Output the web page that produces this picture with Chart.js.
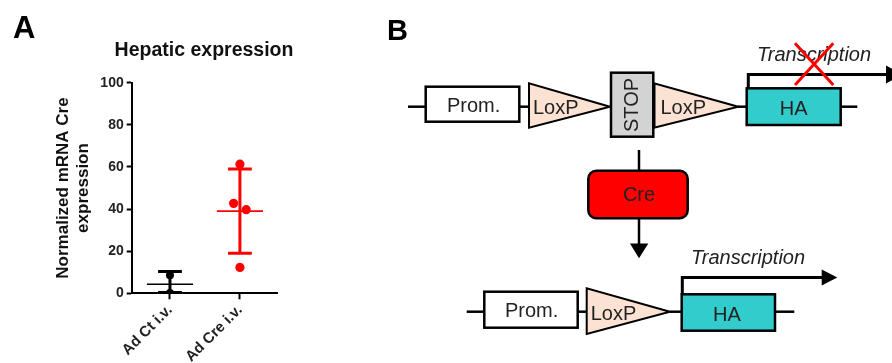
<!DOCTYPE html>
<html>
<head>
<meta charset="utf-8">
<script src="https://cdn.jsdelivr.net/npm/chart.js@4/dist/chart.umd.min.js"></script>
<style>
  html, body { margin:0; padding:0; background:#fff; }
  body { width:892px; height:363px; position:relative; overflow:hidden; font-family:"Liberation Sans", Arial, sans-serif; }
  #chartA { position:absolute; left:0; top:0; }
  .lbl { position:absolute; font-weight:bold; color:#000; line-height:1; white-space:nowrap; }
  svg { position:absolute; left:0; top:0; }
</style>
</head>
<body>
<canvas id="chartA" width="380" height="363"></canvas>
<div class="lbl" style="left:13px; top:12px; font-size:31px;">A</div>
<div class="lbl" style="left:0; width:408px; text-align:center; top:40px; font-size:19.5px; color:#111;">Hepatic expression</div>
<div class="lbl" style="left:387px; top:16px; font-size:29px;">B</div>

<svg width="892" height="363" viewBox="0 0 892 363" xmlns="http://www.w3.org/2000/svg" font-family="Liberation Sans, Arial, sans-serif">
  <g stroke="#000" stroke-width="2.5" fill="none">
    <line x1="408" y1="106.7" x2="426" y2="106.7"/>
    <line x1="519" y1="106.7" x2="529" y2="106.7"/>
    <line x1="738" y1="106.7" x2="747" y2="106.7"/>
    <line x1="840" y1="106.7" x2="857.3" y2="106.7"/>
    <line x1="466.7" y1="311.7" x2="484.3" y2="311.7"/>
    <line x1="577.7" y1="311.7" x2="586.7" y2="311.7"/>
    <line x1="670" y1="311.7" x2="681.7" y2="311.7"/>
    <line x1="775" y1="311.7" x2="794.3" y2="311.7"/>
  </g>
  <rect x="425.7" y="86.7" width="93.6" height="35" fill="#fff" stroke="#000" stroke-width="2.5"/>
  <polygon points="529,83.3 529,127.7 610,106.7" fill="#FBE2D3" stroke="#000" stroke-width="2"/>
  <rect x="611" y="72.7" width="42.3" height="64" fill="#D3D3D3" stroke="#000" stroke-width="2.5"/>
  <polygon points="654,83.3 654,127.7 738.3,106.7" fill="#FBE2D3" stroke="#000" stroke-width="2"/>
  <line x1="654" y1="83" x2="654" y2="128" stroke="#000" stroke-width="3"/>
  <rect x="746.7" y="88.3" width="94" height="36.7" fill="#33CCCC" stroke="#000" stroke-width="2.5"/>
  <text x="447" y="112" font-size="20" fill="#222">Prom.</text>
  <text x="533" y="113.5" font-size="20" fill="#222">LoxP</text>
  <text x="660.5" y="113.5" font-size="20" fill="#222">LoxP</text>
  <text x="793.7" y="114.5" font-size="20" fill="#222" text-anchor="middle">HA</text>
  <text transform="translate(638,105) rotate(-90)" x="0" y="0" font-size="20" fill="#222" text-anchor="middle">STOP</text>
  <path d="M748.3 88.3 V74.5 H888" fill="none" stroke="#000" stroke-width="3"/>
  <polygon points="886,65.5 886,83.5 903,74.5" fill="#000"/>
  <text x="757" y="61" font-size="20" font-style="italic" fill="#222">Transcription</text>
  <g stroke="#FF0000" stroke-width="3">
    <line x1="795" y1="43.3" x2="833.3" y2="85"/>
    <line x1="833.3" y1="43.3" x2="795" y2="85"/>
  </g>
  <line x1="639" y1="150" x2="639" y2="171" stroke="#000" stroke-width="2.5"/>
  <rect x="588.3" y="170.7" width="99.4" height="47.6" rx="8" ry="8" fill="#FF0000" stroke="#000" stroke-width="2.5"/>
  <text x="639" y="200.5" font-size="20" fill="#222" text-anchor="middle">Cre</text>
  <line x1="639" y1="218.3" x2="639" y2="245" stroke="#000" stroke-width="2.5"/>
  <polygon points="630,243.5 648.3,243.5 639,258.3" fill="#000"/>
  <rect x="484.3" y="291.7" width="93.4" height="36" fill="#fff" stroke="#000" stroke-width="2.5"/>
  <polygon points="586.7,288.3 586.7,334 670,311.7" fill="#FBE2D3" stroke="#000" stroke-width="2"/>
  <rect x="681.7" y="294.3" width="93.3" height="36.4" fill="#33CCCC" stroke="#000" stroke-width="2.5"/>
  <text x="505" y="316.7" font-size="20" fill="#222">Prom.</text>
  <text x="590.7" y="319.5" font-size="20" fill="#222">LoxP</text>
  <text x="727" y="321" font-size="20" fill="#222" text-anchor="middle">HA</text>
  <path d="M682.3 294.3 V277.5 H823" fill="none" stroke="#000" stroke-width="3"/>
  <polygon points="821.7,269.5 821.7,285.5 837.3,277.5" fill="#000"/>
  <text x="691" y="264" font-size="20" font-style="italic" fill="#222">Transcription</text>
</svg>

<script>
// ---- Data (panel A) ----
const groups = ['Ad Ct i.v.', 'Ad Cre i.v.'];
const ctValues = [8.6, 0.2];
const creValues = [61.3, 42.7, 39.7, 12.3];
const ctJitter = [0, 0];
const creJitter = [0, -0.09, 0.09, 0];
const means = [4.3, 39.0];
const sdUpper = [10.3, 59.0];
const sdLower = [0.4, 19.0];
const yTicks = [0, 20, 40, 60, 80, 100];
const groupColors = ['#000000', '#FF0000'];

const FONT = '"Liberation Sans", Arial, sans-serif';
const MEAN_HALF = 0.33, CAP_HALF = 0.17;

function pointsFor(values, jitter, gi) {
  return values.map((v, i) => ({ x: gi + 1 + jitter[i], y: v }));
}
function meanLine(gi) {
  const x = gi + 1;
  return [{ x: x - MEAN_HALF, y: means[gi] }, { x: x + MEAN_HALF, y: means[gi] }];
}
function errorBar(gi) {
  const x = gi + 1, hi = sdUpper[gi], lo = sdLower[gi];
  return [
    { x: x - CAP_HALF, y: hi }, { x: x + CAP_HALF, y: hi }, { x: x, y: null },
    { x: x, y: hi }, { x: x, y: lo }, { x: x, y: null },
    { x: x - CAP_HALF, y: lo }, { x: x + CAP_HALF, y: lo }
  ];
}

const datasets = [];
[ctValues, creValues].forEach((vals, gi) => {
  const jit = gi === 0 ? ctJitter : creJitter;
  datasets.push({
    label: groups[gi] + ' points', data: pointsFor(vals, jit, gi), order: 0,
    showLine: false, pointRadius: gi === 0 ? 4 : 4.6, pointBackgroundColor: groupColors[gi],
    pointBorderColor: groupColors[gi], pointBorderWidth: 0
  });
  datasets.push({
    label: groups[gi] + ' mean', data: meanLine(gi), order: 1, showLine: true,
    borderColor: groupColors[gi], borderWidth: 1.6, pointRadius: 0, spanGaps: false
  });
  datasets.push({
    label: groups[gi] + ' SD', data: errorBar(gi), order: 1, showLine: true,
    borderColor: groupColors[gi], borderWidth: 3, pointRadius: 0, spanGaps: false,
    borderCapStyle: 'butt'
  });
});

new Chart(document.getElementById('chartA'), {
  type: 'scatter',
  data: { datasets },
  options: {
    responsive: false,
    animation: false,
    devicePixelRatio: 1,
    layout: { padding: { left: 40, right: 103, top: 82.7, bottom: 0 } },
    plugins: { legend: { display: false }, tooltip: { enabled: false }, title: { display: false } },
    scales: {
      x: {
        type: 'linear', min: 0.453, max: 2.53,
        afterBuildTicks: s => { s.ticks = groups.map((g, i) => ({ value: i + 1 })); },
        afterFit: s => { s.height = 69.7; },
        border: { display: true, color: '#000', width: 2 },
        grid: { drawOnChartArea: false, drawTicks: true, tickLength: 6, tickWidth: 2, tickColor: '#000' },
        ticks: {
          callback: v => groups[Math.round(v) - 1],
          minRotation: 45, maxRotation: 45, autoSkip: false, padding: 2,
          color: '#222', font: { family: FONT, size: 15, weight: 'bold' }
        }
      },
      y: {
        min: 0, max: 100,
        afterBuildTicks: s => { s.ticks = yTicks.map(v => ({ value: v })); },
        afterFit: s => { s.width = 91.7; },
        border: { display: true, color: '#000', width: 2 },
        grid: { drawOnChartArea: false, drawTicks: true, tickLength: 5, tickWidth: 2, tickColor: '#000' },
        ticks: { padding: 3, color: '#222', font: { family: FONT, size: 14, weight: 'bold' } },
        title: {
          display: true, text: ['Normalized mRNA Cre', 'expression'], color: '#111',
          font: { family: FONT, size: 17, weight: 'bold', lineHeight: 20 / 17 },
          padding: { top: 13, bottom: 0 }
        }
      }
    }
  }
});
</script>
</body>
</html>
